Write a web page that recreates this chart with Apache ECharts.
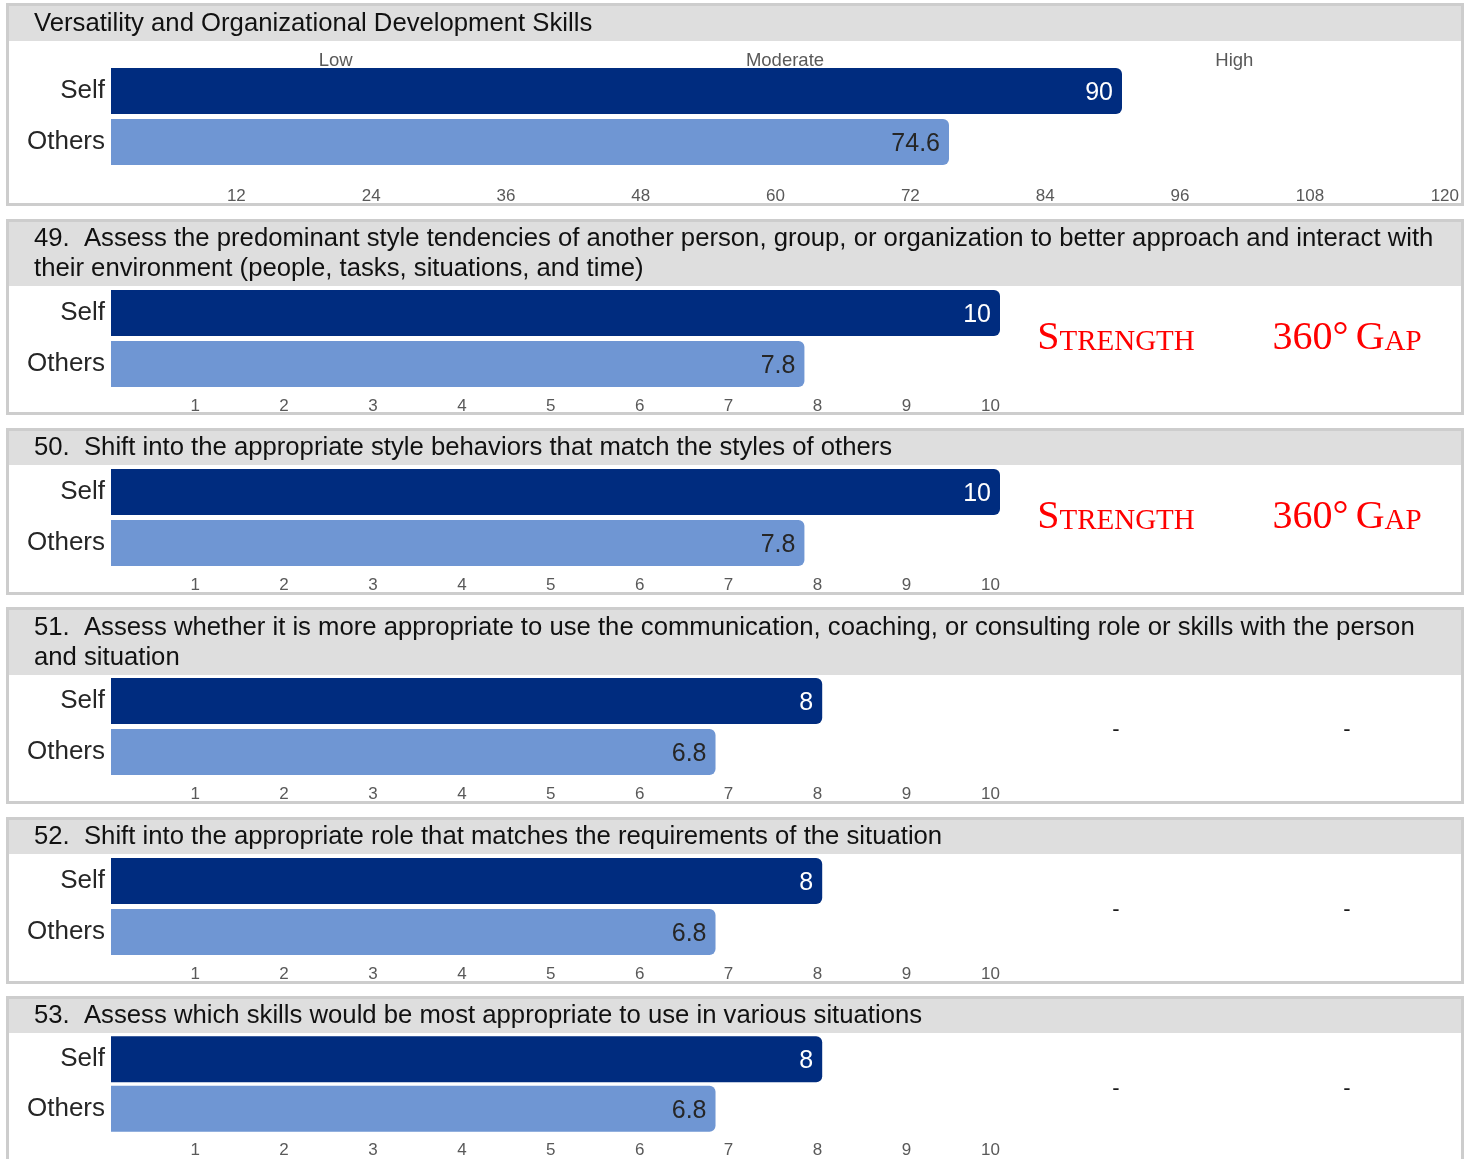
<!DOCTYPE html>
<html>
<head>
<meta charset="utf-8">
<script src="https://cdn.jsdelivr.net/npm/echarts@6/dist/echarts.min.js"></script>
<style>
  html, body { margin: 0; padding: 0; background: #ffffff; }
  #chart { width: 1474px; height: 1159px; }
</style>
</head>
<body>
<div id="chart"></div>
<script>
// ---------- data ----------
const raters = ['Self', 'Others'];
const summaryTitle = 'Versatility and Organizational Development Skills';
const summaryScores = [90, 74.6];
const summaryTicks = { min: 0, max: 120, interval: 12 };
const levelLabels = ['Low', 'Moderate', 'High'];

const itemTitles = [
  '49.  Assess the predominant style tendencies of another person, group, or organization to better approach and interact with\ntheir environment (people, tasks, situations, and time)',
  '50.  Shift into the appropriate style behaviors that match the styles of others',
  '51.  Assess whether it is more appropriate to use the communication, coaching, or consulting role or skills with the person\nand situation',
  '52.  Shift into the appropriate role that matches the requirements of the situation',
  '53.  Assess which skills would be most appropriate to use in various situations'
];
const selfScores = [10, 10, 8, 8, 8];
const othersScores = [7.8, 7.8, 6.8, 6.8, 6.8];
const itemTicks = { min: 0, max: 10, interval: 1 };
const strengthFlags = ['Strength', 'Strength', '-', '-', '-'];
const gapFlags = ['360° Gap', '360° Gap', '-', '-', '-'];

// ---------- layout ----------
const SELF_COLOR = '#002c7f';
const OTHERS_COLOR = '#6f96d3';
const BORDER = '#cdcdcd';
const HEADER_BG = '#dedede';
const FONT = 'Liberation Sans, Arial, sans-serif';
const SERIF = 'Liberation Serif, Times New Roman, serif';

const panels = [
  { top: 3, bottom: 206, head: 41, grid: 65.5, line: 23.5 },
  { top: 219, bottom: 415, head: 286, grid: 287.5, line: 238.5 },
  { top: 428, bottom: 595, head: 465, grid: 466.5, line: 447.5 },
  { top: 607, bottom: 804, head: 675, grid: 675.5, line: 627.5 },
  { top: 817, bottom: 984, head: 854, grid: 855.5, line: 836.5 },
  { top: 996, bottom: 1180, head: 1033, grid: 1034.5, line: 1015.5 }
];
const titles = [summaryTitle].concat(itemTitles);

const graphics = [];
panels.forEach((p, i) => {
  graphics.push({ type: 'rect', z: 0, shape: { x: 7.5, y: p.top + 1.5, width: 1455, height: p.bottom - p.top - 3 }, style: { fill: '#ffffff' } });
  graphics.push({ type: 'rect', z: 0, shape: { x: 7.5, y: p.top + 1.5, width: 1455, height: p.head - p.top - 1.5 }, style: { fill: HEADER_BG } });
  graphics.push({ type: 'rect', z: 1, shape: { x: 7.5, y: p.top + 1.5, width: 1455, height: p.bottom - p.top - 3 }, style: { fill: 'none', stroke: BORDER, lineWidth: 3 } });
  graphics.push({
    type: 'text', z: 2,
    style: { text: titles[i], x: 34, y: p.line - 15, font: '25.7px ' + FONT, fill: '#111111', lineHeight: 30, textVerticalAlign: 'top', verticalAlign: 'top' }
  });
});

function smallCaps(str) {
  return str.split(' ').map(w => {
    if (/^[0-9]/.test(w)) return '{big|' + w + '}';
    const m = w.match(/^([A-Za-z]?)(.*)$/);
    return '{big|' + m[1].toUpperCase() + '}' + (m[2] ? '{small|' + m[2].toUpperCase() + '}' : '');
  }).join('{small| }');
}

function flagText(str, x, y) {
  if (str === '-') {
    return { type: 'text', z: 2, style: { text: '-', x: x, y: y + 3, font: '22px ' + FONT, fill: '#1a1a1a', textAlign: 'center', align: 'center', textVerticalAlign: 'middle', verticalAlign: 'middle' } };
  }
  return {
    type: 'text', z: 2,
    style: {
      text: smallCaps(str), x: x, y: y, textAlign: 'center', align: 'center', textVerticalAlign: 'middle', verticalAlign: 'middle',
      rich: {
        big: { fontFamily: SERIF, fontSize: 40, fill: '#ff0000', color: '#ff0000', lineHeight: 40, verticalAlign: 'bottom' },
        small: { fontFamily: SERIF, fontSize: 29, fill: '#ff0000', color: '#ff0000', lineHeight: 40, verticalAlign: 'bottom', padding: [0, 0, 2, 0] }
      }
    }
  };
}

itemTitles.forEach((t, i) => {
  const p = panels[i + 1];
  const cy = p.grid + 51;
  graphics.push(flagText(strengthFlags[i], 1116, cy));
  graphics.push(flagText(gapFlags[i], 1347, cy));
});

// ---------- axes ----------
const grids = [];
const xAxes = [];
const yAxes = [];
const series = [];

function valueAxis(gridIndex, ticks, margin) {
  return {
    gridIndex: gridIndex, type: 'value', min: ticks.min, max: ticks.max, interval: ticks.interval,
    axisLine: { show: false }, axisTick: { show: false }, splitLine: { show: false },
    axisLabel: {
      show: true, align: 'right', margin: margin, fontSize: 17, fontFamily: FONT, color: '#595959',
      showMinLabel: false, showMaxLabel: true,
      formatter: v => (v === ticks.min ? '' : String(v))
    }
  };
}

function catAxis(gridIndex) {
  return {
    gridIndex: gridIndex, type: 'category', inverse: true, data: raters,
    axisLine: { show: false }, axisTick: { show: false }, splitLine: { show: false },
    axisLabel: { margin: 6, fontSize: 26, fontFamily: FONT, color: '#262626' }
  };
}

function barSeries(idx, xIdx, yIdx, vals) {
  return {
    type: 'bar', xAxisIndex: xIdx, yAxisIndex: yIdx, barWidth: 46, z: 3,
    data: [
      { value: vals[0], itemStyle: { color: SELF_COLOR }, label: { color: '#ffffff' } },
      { value: vals[1], itemStyle: { color: OTHERS_COLOR }, label: { color: '#262626' } }
    ],
    itemStyle: { borderRadius: [0, 6, 6, 0] },
    label: { show: true, position: 'insideRight', distance: 9, fontSize: 25, fontFamily: FONT, offset: [0, 2] },
    silent: true, animation: false
  };
}

grids.push({ left: 111, top: panels[0].grid, width: 1348, height: 102, containLabel: false });
xAxes.push(valueAxis(0, summaryTicks, 20.5));
xAxes.push({
  gridIndex: 0, type: 'category', position: 'top', data: levelLabels, boundaryGap: true,
  axisLine: { show: false }, axisTick: { show: false }, splitLine: { show: false },
  axisLabel: { margin: -5, fontSize: 18.5, fontFamily: FONT, color: '#595959', interval: 0 }
});
yAxes.push(catAxis(0));
series.push(barSeries(0, 0, 0, summaryScores));

itemTitles.forEach((t, i) => {
  const g = i + 1;
  grids.push({ left: 111, top: panels[g].grid, width: 889, height: 102, containLabel: false });
  xAxes.push(valueAxis(g, itemTicks, 8.5));
  yAxes.push(catAxis(g));
  series.push(barSeries(g, xAxes.length - 1, yAxes.length - 1, [selfScores[i], othersScores[i]]));
});

const chart = echarts.init(document.getElementById('chart'), null, { renderer: 'canvas' });
chart.setOption({
  backgroundColor: '#ffffff',
  animation: false,
  grid: grids,
  xAxis: xAxes,
  yAxis: yAxes,
  series: series,
  graphic: graphics
});
</script>
</body>
</html>
